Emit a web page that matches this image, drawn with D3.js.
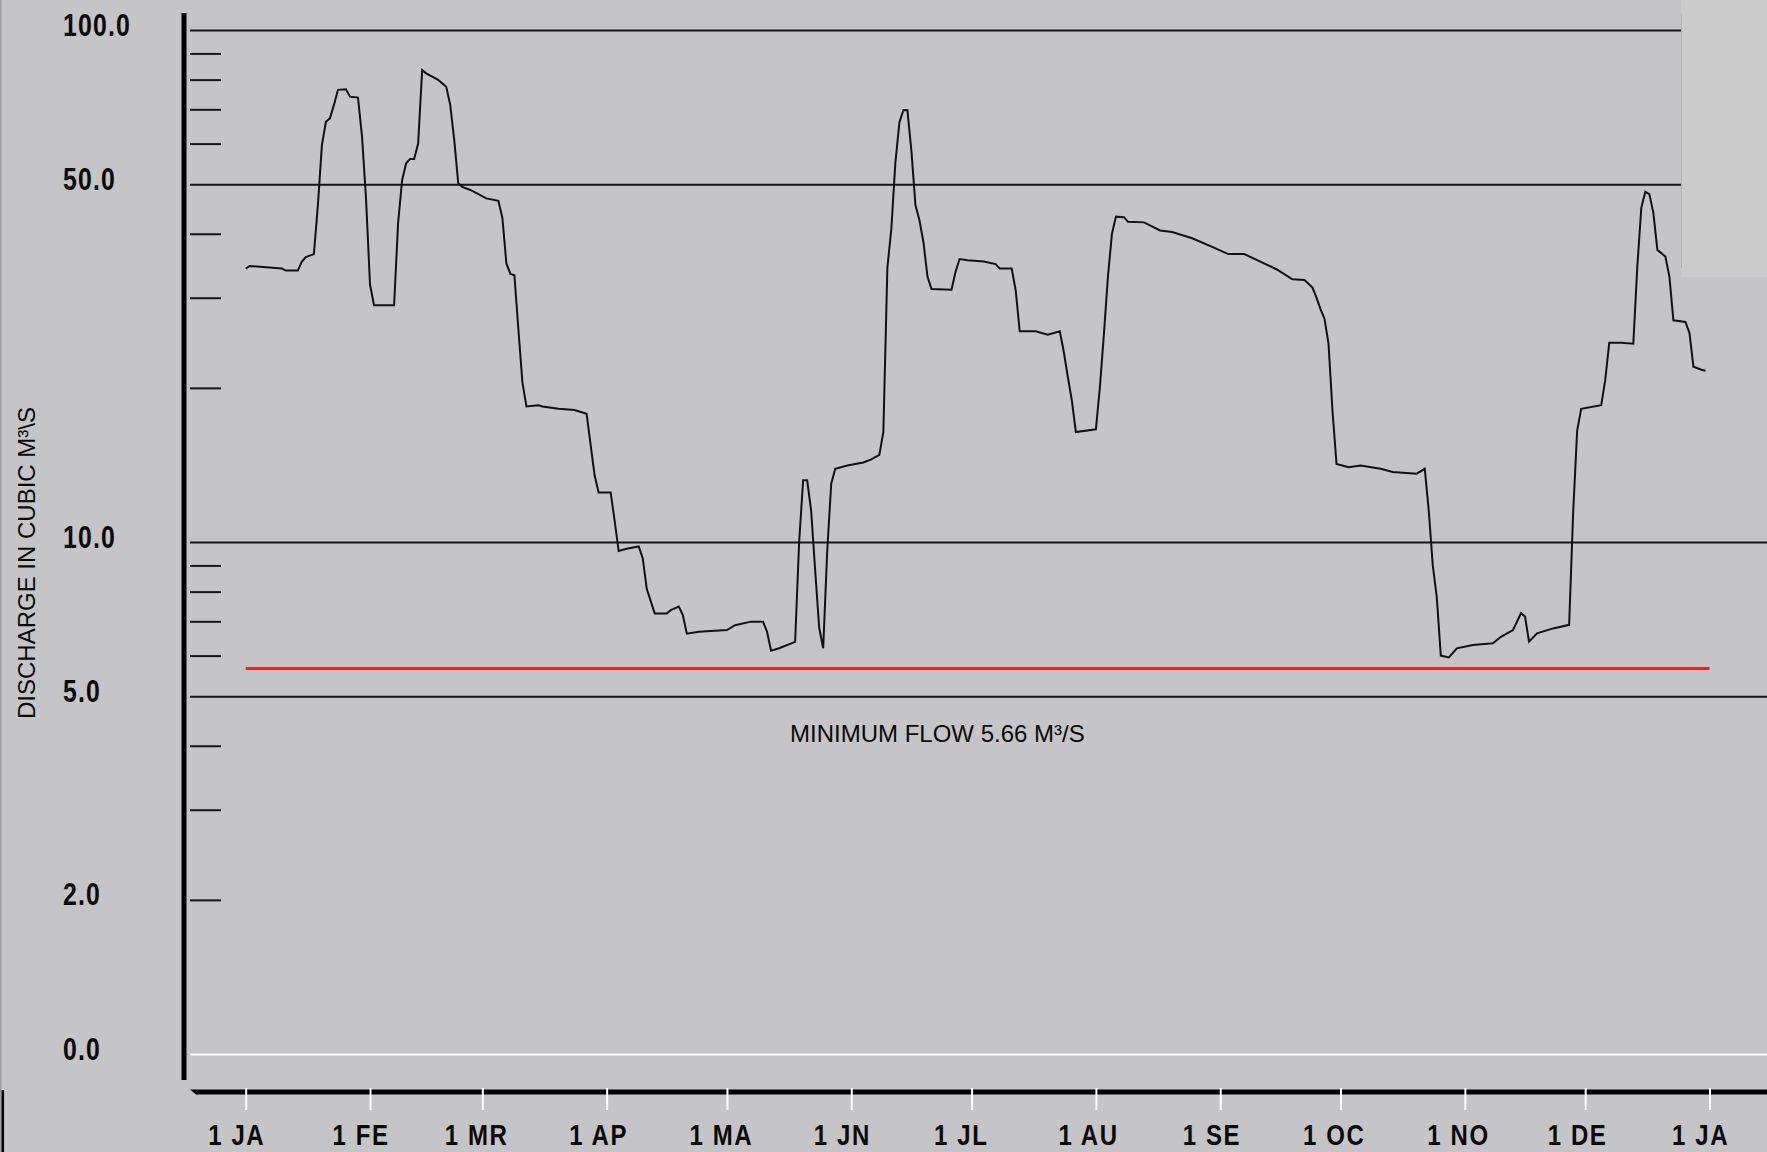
<!DOCTYPE html>
<html>
<head>
<meta charset="utf-8">
<script src="https://cdn.jsdelivr.net/npm/d3@7"></script>
<style>
  html, body { margin: 0; padding: 0; background: #c5c4c7; }
  svg { display: block; }
</style>
</head>
<body>
<svg id="chart" width="1767" height="1152"></svg>
<script>
// Month boundaries along the time axis and their short labels
const monthStarts = ["2001-01-01","2001-02-01","2001-03-01","2001-04-01","2001-05-01","2001-06-01",
                     "2001-07-01","2001-08-01","2001-09-01","2001-10-01","2001-11-01","2001-12-01","2002-01-01"];
const monthLabels = ["1 JA","1 FE","1 MR","1 AP","1 MA","1 JN","1 JL","1 AU","1 SE","1 OC","1 NO","1 DE","1 JA"];

// Log discharge axis: full-width rules, short minor ticks, labelled values
const upperRules = [100, 50];
const lowerRules = [10, 5];
const minorTicks = [90, 80, 70, 60, 40, 30, 20, 9, 8, 7, 6, 4, 3, 2];
const labelValues = [100, 50, 10, 5, 2, 1];
const labelTexts = ["100.0", "50.0", "10.0", "5.0", "2.0", "0.0"];

// Required minimum flow (m3/s)
const minimumFlow = 5.66;

// Daily discharge record (m3/s), break points of the hydrograph
const flowDates = [
  "2001-01-01","2001-01-02","2001-01-10","2001-01-11","2001-01-14","2001-01-15","2001-01-16","2001-01-18",
  "2001-01-19","2001-01-20","2001-01-21","2001-01-22","2001-01-23","2001-01-24","2001-01-26","2001-01-27",
  "2001-01-29","2001-01-30","2001-01-31","2001-02-01","2001-02-02","2001-02-07","2001-02-08","2001-02-09",
  "2001-02-10","2001-02-11","2001-02-12","2001-02-13","2001-02-14","2001-02-15","2001-02-18","2001-02-20",
  "2001-02-21","2001-02-22","2001-02-23","2001-02-24","2001-02-26","2001-03-02","2001-03-05","2001-03-06",
  "2001-03-07","2001-03-08","2001-03-09","2001-03-10","2001-03-11","2001-03-12","2001-03-15","2001-03-16",
  "2001-03-20","2001-03-24","2001-03-27","2001-03-28","2001-03-29","2001-03-30","2001-04-02","2001-04-03",
  "2001-04-04","2001-04-06","2001-04-09","2001-04-10","2001-04-11","2001-04-13","2001-04-16","2001-04-17",
  "2001-04-19","2001-04-20","2001-04-21","2001-04-24","2001-05-01","2001-05-03","2001-05-07","2001-05-10",
  "2001-05-11","2001-05-12","2001-05-14","2001-05-18","2001-05-19","2001-05-20","2001-05-21","2001-05-22",
  "2001-05-23","2001-05-24","2001-05-25","2001-05-26","2001-05-27","2001-05-28","2001-05-31","2001-06-04",
  "2001-06-06","2001-06-08","2001-06-09","2001-06-10","2001-06-11","2001-06-12","2001-06-13","2001-06-14",
  "2001-06-15","2001-06-16","2001-06-17","2001-06-18","2001-06-19","2001-06-20","2001-06-21","2001-06-26",
  "2001-06-27","2001-06-28","2001-06-30","2001-07-04","2001-07-07","2001-07-08","2001-07-11","2001-07-12",
  "2001-07-13","2001-07-17","2001-07-20","2001-07-23","2001-07-24","2001-07-25","2001-07-26","2001-07-27",
  "2001-08-01","2001-08-02","2001-08-03","2001-08-04","2001-08-05","2001-08-06","2001-08-08","2001-08-09",
  "2001-08-13","2001-08-17","2001-08-20","2001-08-25","2001-08-30","2001-09-03","2001-09-07","2001-09-11",
  "2001-09-15","2001-09-19","2001-09-22","2001-09-24","2001-09-25","2001-09-26","2001-09-27","2001-09-28",
  "2001-09-29","2001-09-30","2001-10-03","2001-10-06","2001-10-11","2001-10-14","2001-10-20","2001-10-22",
  "2001-10-23","2001-10-24","2001-10-25","2001-10-26","2001-10-28","2001-10-30","2001-11-03","2001-11-08",
  "2001-11-10","2001-11-13","2001-11-15","2001-11-16","2001-11-17","2001-11-19","2001-11-23","2001-11-27",
  "2001-11-28","2001-11-29","2001-11-30","2001-12-05","2001-12-06","2001-12-07","2001-12-10","2001-12-13",
  "2001-12-14","2001-12-15","2001-12-16","2001-12-17","2001-12-18","2001-12-19","2001-12-21","2001-12-22",
  "2001-12-23","2001-12-26","2001-12-27","2001-12-28","2001-12-30","2001-12-31"
];
const flowValues = [
  34.2, 34.6, 34.2, 33.9, 33.9, 35.3, 36.0, 36.5,
  45.5, 59.6, 66.2, 67.2, 71.4, 76.4, 76.6, 74.1,
  73.8, 62.0, 46.9, 31.8, 29.0, 29.0, 42.0, 50.9,
  54.9, 56.0, 56.0, 60.0, 83.5, 82.3, 79.9, 77.5,
  71.4, 61.0, 50.2, 49.4, 48.7, 46.9, 46.4, 43.0,
  35.0, 33.4, 33.2, 26.0, 20.5, 18.4, 18.5, 18.4,
  18.2, 18.1, 17.8, 15.5, 13.5, 12.5, 12.5, 11.0,
  9.6, 9.7, 9.8, 9.3, 8.1, 7.25, 7.25, 7.36,
  7.48, 7.2, 6.62, 6.68, 6.73, 6.88, 6.99, 6.99,
  6.68, 6.13, 6.2, 6.38, 10.0, 13.2, 13.2, 11.5,
  8.8, 6.8, 6.2, 9.6, 13.0, 13.9, 14.1, 14.3,
  14.5, 14.8, 16.4, 34.3, 41.0, 55.1, 66.0, 69.8,
  69.7, 58.0, 45.5, 42.5, 38.5, 33.0, 31.2, 31.1,
  33.7, 35.7, 35.5, 35.3, 34.9, 34.2, 34.2, 31.0,
  25.8, 25.8, 25.4, 25.8, 23.5, 21.0, 18.9, 16.4,
  16.6, 20.1, 25.5, 33.0, 40.0, 43.2, 43.1, 42.2,
  42.1, 40.6, 40.3, 39.2, 37.7, 36.5, 36.5, 35.3,
  34.1, 32.6, 32.5, 31.4, 30.0, 28.5, 27.3, 24.4,
  18.0, 14.2, 14.0, 14.1, 13.9, 13.7, 13.6, 13.9,
  11.5, 9.0, 7.8, 6.0, 5.95, 6.2, 6.29, 6.34,
  6.53, 6.73, 7.26, 7.15, 6.39, 6.63, 6.78, 6.89,
  11.4, 16.5, 18.2, 18.5, 20.7, 24.5, 24.5, 24.4,
  34.5, 45.0, 48.3, 47.8, 44.0, 37.2, 36.1, 33.0,
  27.1, 26.9, 25.6, 22.0, 21.7, 21.6
];

const parseDate = d3.utcParse("%Y-%m-%d");
const flow = flowDates.map((d, i) => ({ date: parseDate(d), value: flowValues[i] }));
const months = monthStarts.map(parseDate);

const W = 1767, H = 1152;
const axisX = 184;        // vertical axis line
const plotLeft = 190;     // start of rules
const baseY = 1092;       // horizontal axis line

const x = d3.scaleUtc().domain([months[0], months[months.length - 1]]).range([245.7, 1709.5]);
const y = d3.scaleLog().domain([1, 100]).range([1054, 30]);

const labelFont = "'Liberation Sans', Arial, sans-serif";
const textFont = "'Liberation Sans', Arial, sans-serif";
const condense = 0.8;     // horizontal squeeze of the bold axis lettering

const svg = d3.select("#chart");

svg.append("rect").attr("width", W).attr("height", H).attr("fill", "#c5c4c7");

// Upper rules stop at the panel edge, lower rules run across the page
function rules(values, length) {
  const g = svg.append("g")
    .attr("transform", `translate(${plotLeft},0)`)
    .call(d3.axisRight(y).tickValues(values).tickSize(length).tickFormat(""));
  g.select(".domain").remove();
  g.selectAll(".tick line").attr("stroke", "#161616").attr("stroke-width", 2);
}
rules(upperRules, 1681 - plotLeft);
rules(lowerRules, W - plotLeft);

// Short minor ticks
const minorG = svg.append("g")
  .attr("transform", `translate(${plotLeft},0)`)
  .call(d3.axisRight(y).tickValues(minorTicks).tickSize(31).tickFormat(""));
minorG.select(".domain").remove();
minorG.selectAll(".tick line").attr("stroke", "#161616").attr("stroke-width", 2);

// Base line at the bottom of the scale
const baseG = svg.append("g")
  .attr("transform", `translate(${plotLeft},0)`)
  .call(d3.axisRight(y).tickValues([1]).tickSize(W - plotLeft).tickFormat(""));
baseG.select(".domain").remove();
baseG.selectAll(".tick line").attr("stroke", "#ffffff").attr("stroke-width", 2);

// Value labels on the left
const yLabelG = svg.append("g")
  .attr("transform", "translate(63,0)")
  .call(d3.axisLeft(y).tickValues(labelValues).tickSize(0)
    .tickFormat(v => labelTexts[labelValues.indexOf(v)]));
yLabelG.select(".domain").remove();
yLabelG.selectAll(".tick text")
  .attr("x", 0).attr("y", 0).attr("dy", null)
  .attr("transform", `translate(0,5) scale(${condense},1)`)
  .attr("text-anchor", "start")
  .attr("fill", "#0a0a0a")
  .style("font-family", labelFont)
  .style("font-weight", "bold")
  .style("font-size", "31px")
  .style("letter-spacing", "1.5px");

// Vertical axis line
svg.append("line")
  .attr("x1", axisX).attr("x2", axisX).attr("y1", 13).attr("y2", 1080)
  .attr("stroke", "#000").attr("stroke-width", 5);

// Horizontal time axis
svg.append("path")
  .attr("d", `M${plotLeft},${baseY - 2.5}L${W},${baseY - 2.5}L${W},${baseY + 2.5}L${plotLeft + 6},${baseY + 2.5}Z`)
  .attr("fill", "#000");

const xAxisG = svg.append("g")
  .attr("transform", `translate(0,${baseY})`)
  .call(d3.axisBottom(x).tickValues(months).tickSize(18)
    .tickFormat((d, i) => monthLabels[i]));
xAxisG.select(".domain").remove();
xAxisG.selectAll(".tick line").attr("y1", -4).attr("stroke", "#ffffff").attr("stroke-width", 2);
xAxisG.selectAll(".tick text")
  .attr("x", 0).attr("y", 0).attr("dy", null)
  .attr("transform", `translate(-38,53) scale(${condense},1)`)
  .attr("text-anchor", "start")
  .attr("fill", "#0a0a0a")
  .style("font-family", labelFont)
  .style("font-weight", "bold")
  .style("font-size", "30px")
  .style("letter-spacing", "2px");

// Minimum flow requirement
svg.append("line")
  .attr("x1", x(months[0])).attr("x2", x(months[months.length - 1]))
  .attr("y1", y(minimumFlow)).attr("y2", y(minimumFlow))
  .attr("stroke", "#e8242b").attr("stroke-width", 3);

svg.append("text")
  .attr("x", 790).attr("y", 742)
  .attr("fill", "#0a0a0a")
  .style("font-family", textFont)
  .style("font-size", "24px")
  .text(`MINIMUM FLOW ${minimumFlow} M³/S`);

// Hydrograph
svg.append("path")
  .datum(flow)
  .attr("fill", "none")
  .attr("stroke", "#111")
  .attr("stroke-width", 2)
  .attr("stroke-linejoin", "miter")
  .attr("d", d3.line().x(d => x(d.date)).y(d => y(d.value)));

// Axis title
svg.append("text")
  .attr("transform", "translate(35,719) rotate(-90)")
  .attr("fill", "#0a0a0a")
  .style("font-family", textFont)
  .style("font-size", "24px")
  .text("DISCHARGE IN CUBIC M³\\S");

// Overlapping window panel at the top right and frame edges
svg.append("rect")
  .attr("x", 1681).attr("y", 0).attr("width", W - 1681).attr("height", 277)
  .attr("fill", "#cbcbcb");
svg.append("line")
  .attr("x1", 1681.5).attr("x2", 1681.5).attr("y1", 14).attr("y2", 268)
  .attr("stroke", "#b4b4b6").attr("stroke-width", 1);
svg.append("line")
  .attr("x1", 0.75).attr("x2", 0.75).attr("y1", 0).attr("y2", H)
  .attr("stroke", "#9c9c9e").attr("stroke-width", 1.5);
svg.append("line")
  .attr("x1", 2.8).attr("x2", 2.8).attr("y1", 1090).attr("y2", H)
  .attr("stroke", "#000").attr("stroke-width", 2.5);
</script>
</body>
</html>
